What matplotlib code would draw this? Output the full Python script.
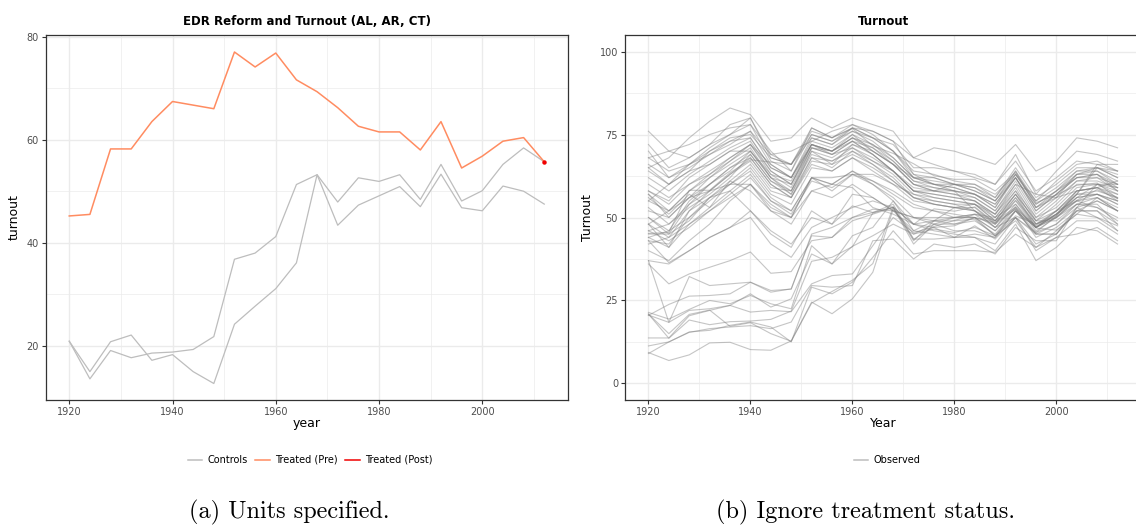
import numpy as np
import matplotlib.pyplot as plt
from matplotlib.lines import Line2D

years = list(range(1920, 2013, 4))

# treated unit (CT) and the two controls (AL, AR) -- panel (a)
treated = [45.2, 45.5, 58.2, 58.2, 63.5, 67.4, 66.7, 66.0, 77.0, 74.1, 76.8, 71.6,
           69.3, 66.2, 62.6, 61.5, 61.5, 58.0, 63.5, 54.5, 56.8, 59.7, 60.4, 55.7]
treated_post_year = [2012]
treated_post = [55.7]
ctrl_ar = [20.9, 13.6, 19.1, 17.7, 18.6, 18.8, 19.3, 21.8, 36.8, 38.0, 41.2, 51.3,
           53.2, 47.9, 52.6, 51.9, 53.2, 48.4, 55.2, 48.1, 50.1, 55.2, 58.4, 55.7]
ctrl_al = [20.9, 15.0, 20.8, 22.1, 17.2, 18.3, 15.0, 12.7, 24.2, 27.7, 31.1, 36.1,
           53.2, 43.4, 47.3, 49.1, 50.9, 47.0, 53.3, 46.8, 46.2, 51.0, 50.0, 47.5]

# all states, panel (b) (read by eye, rough)
north = [
    [65, 68, 74, 79, 83, 81, 73, 74, 80, 77, 80, 78, 76, 68, 66, 64, 62, 60, 67, 58, 62, 67, 66, 64],
    [55, 60, 64, 70, 74, 75, 68, 66, 74, 72, 77, 76, 73, 68, 71, 70, 68, 66, 72, 64, 67, 74, 73, 71],
    [72, 65, 68, 72, 75, 80, 68, 66, 75, 73, 76, 74, 72, 65, 65, 64, 63, 60, 69, 57, 64, 70, 69, 67],
    [76, 70, 72, 75, 77, 78, 70, 64, 77, 74, 78, 75, 70, 62, 62, 60, 60, 57, 63, 55, 61, 66, 67, 64],
    [68, 64, 66, 69, 73, 76, 66, 62, 72, 70, 74, 72, 68, 62, 61, 60, 58, 55, 64, 53, 58, 64, 65, 62],
    [64, 60, 66, 70, 73, 74, 65, 62, 73, 71, 75, 70, 66, 60, 58, 58, 57, 54, 62, 52, 57, 62, 62, 60],
    [58, 55, 62, 66, 70, 73, 64, 60, 71, 69, 73, 71, 67, 61, 60, 59, 57, 53, 63, 54, 58, 63, 64, 60],
    [60, 56, 60, 63, 67, 71, 62, 58, 70, 68, 72, 70, 66, 60, 59, 58, 56, 52, 60, 50, 55, 61, 61, 59],
    [55, 52, 58, 62, 66, 70, 62, 57, 68, 67, 71, 68, 64, 58, 57, 56, 55, 51, 59, 49, 54, 60, 60, 58],
    [50, 46, 55, 60, 65, 69, 61, 57, 70, 66, 72, 69, 64, 59, 58, 57, 55, 50, 58, 48, 52, 58, 59, 57],
    [48, 44, 52, 58, 63, 68, 60, 56, 68, 65, 70, 67, 63, 57, 56, 55, 54, 49, 57, 47, 51, 57, 58, 56],
    [45, 45, 54, 58, 63, 67, 59, 58, 69, 67, 70, 66, 62, 56, 55, 54, 54, 49, 56, 48, 51, 56, 57, 55],
    [43, 42, 50, 56, 61, 66, 58, 56, 67, 66, 69, 66, 61, 56, 54, 53, 53, 48, 55, 47, 50, 56, 57, 54],
    [44, 46, 50, 55, 60, 65, 57, 54, 65, 64, 68, 64, 60, 55, 54, 53, 52, 47, 54, 46, 50, 55, 56, 53],
    [46, 48, 53, 57, 62, 69, 61, 58, 71, 70, 73, 69, 64, 58, 56, 55, 54, 50, 57, 49, 52, 58, 59, 56],
    [52, 50, 56, 62, 67, 72, 64, 60, 72, 70, 74, 71, 66, 60, 58, 57, 56, 52, 61, 51, 56, 61, 62, 58],
    [62, 58, 63, 67, 71, 74, 65, 62, 74, 72, 76, 73, 68, 62, 60, 59, 57, 53, 62, 52, 57, 63, 63, 60],
    [66, 62, 66, 71, 75, 78, 67, 64, 75, 73, 77, 74, 70, 63, 62, 60, 59, 56, 64, 55, 59, 64, 64, 61],
    [70, 62, 65, 69, 72, 76, 69, 66, 76, 74, 77, 74, 70, 64, 63, 61, 60, 56, 65, 56, 60, 65, 65, 62],
    [58, 54, 60, 64, 68, 72, 63, 61, 72, 70, 75, 72, 67, 61, 59, 58, 57, 54, 62, 53, 57, 62, 63, 59],
    [44, 41, 48, 53, 58, 63, 55, 52, 62, 60, 64, 61, 58, 54, 52, 51, 50, 46, 53, 44, 47, 52, 52, 46],
    [42, 44, 48, 52, 57, 62, 55, 51, 61, 59, 63, 61, 57, 53, 52, 50, 50, 46, 52, 45, 48, 54, 54, 48],
    [53, 48, 54, 60, 65, 68, 60, 56, 66, 64, 68, 65, 61, 56, 54, 53, 52, 48, 56, 47, 51, 57, 57, 54],
    [48, 52, 56, 60, 64, 70, 63, 59, 71, 69, 73, 69, 64, 58, 57, 56, 55, 51, 58, 50, 53, 59, 60, 57],
    [57, 52, 58, 63, 68, 72, 66, 62, 72, 70, 74, 70, 66, 62, 60, 60, 59, 55, 63, 54, 58, 62, 63, 58],
    [50, 45, 49, 56, 60, 64, 56, 52, 62, 58, 63, 60, 56, 50, 48, 46, 46, 44, 50, 42, 45, 52, 52, 48],
    [40, 37, 43, 48, 55, 60, 54, 50, 62, 60, 64, 60, 55, 48, 46, 45, 44, 42, 50, 40, 44, 49, 49, 45],
    [46, 43, 47, 52, 56, 60, 53, 50, 58, 56, 60, 56, 52, 46, 45, 44, 44, 40, 48, 37, 41, 47, 46, 42],
]
border = [
    [57, 50, 56, 58, 60, 60, 52, 48, 58, 60, 59, 53, 51, 48, 49, 50, 51, 49, 53, 47, 52, 55, 57, 55],
    [56, 51, 57, 53, 61, 58, 52, 50, 62, 62, 63, 63, 60, 57, 55, 54, 52, 49, 57, 49, 49, 54, 56, 52],
    [48, 41, 52, 56, 58, 52, 46, 42, 50, 48, 57, 56, 52, 50, 50, 50, 51, 50, 54, 47, 51, 56, 60, 60],
    [37, 36, 40, 44, 47, 50, 42, 38, 47, 50, 53, 55, 53, 48, 47, 44, 45, 44, 52, 45, 45, 52, 55, 52],
    [68, 70, 68, 72, 78, 80, 69, 70, 73, 76, 78, 76, 73, 63, 60, 58, 52, 47, 50, 45, 45, 53, 50, 46],
    [65, 60, 64, 66, 70, 70, 62, 60, 72, 69, 71, 67, 64, 58, 58, 60, 58, 55, 62, 53, 56, 63, 65, 63],
]
south = [
    [9.3, 6.9, 8.6, 12.2, 12.4, 10.2, 10, 12.8, 24.5, 21, 25.5, 33.5, 52.5, 45, 48, 50, 50, 48, 52.5, 45.5, 48, 53, 60, 59],
    [9, 12.5, 15.5, 16, 17.5, 18.5, 17, 12.5, 29, 27, 30.5, 38, 46, 39, 40, 40, 40, 39.5, 45, 41, 46, 51, 56, 52],
    [11.3, 12.5, 15.4, 16.5, 17, 17.4, 16.5, 18.5, 29.5, 29, 29.5, 43, 43.5, 37.5, 42, 41, 42, 39, 47, 43, 43, 53, 55, 52],
    [13.7, 13.7, 20.4, 22, 23.5, 27, 23, 25.5, 39, 36, 44.5, 47, 55, 46, 49, 53, 54, 51, 60, 57, 56, 58, 59, 61],
    [21.4, 19.4, 22.3, 25, 24, 26.5, 24, 22.5, 41.5, 36, 41.3, 44.5, 48, 45, 46.5, 45.5, 47, 44.5, 49, 41, 44, 45, 47, 43],
    [20.6, 18.4, 22, 22.5, 23.5, 21.5, 22, 21.6, 30, 32.5, 33, 41.5, 50, 45.5, 47, 47.5, 50, 48.5, 52.5, 47.5, 52, 57, 66, 66],
    [20.5, 23.8, 26.3, 26.5, 27, 30.5, 27.5, 28.5, 44.5, 44, 50, 52.5, 52, 50, 49, 48, 50, 44.5, 50.5, 48, 50.5, 58, 59, 55],
    [37, 18.4, 32.2, 29.5, 30, 30.5, 28, 28.4, 45, 47, 50, 51.5, 53, 43, 49, 49, 49.5, 44.5, 52, 47, 51, 55, 53, 50],
    [43, 36.4, 40, 44, 47, 52, 45, 41, 52, 48, 53.5, 51.5, 54, 43.5, 43.5, 44, 47.5, 43.5, 50, 45.5, 50.5, 57, 65, 64],
    [36, 30, 33, 35, 37, 39.6, 33.2, 33.7, 43, 44, 49, 51, 53, 42, 48, 48, 49, 45, 52, 47, 50, 54, 53, 49],
]
all_states = north + border + south + [treated, ctrl_ar, ctrl_al]

W, H = 1136, 527
fig = plt.figure(figsize=(W / 100, H / 100), dpi=100)

grid_major = '#EBEBEB'
txt_col = '#4D4D4D'


def style(ax):
    ax.set_xticks([1920, 1940, 1960, 1980, 2000])
    ax.set_xticks([1930, 1950, 1970, 1990, 2010], minor=True)
    ax.grid(which='major', color=grid_major, lw=1.0)
    ax.grid(which='minor', color=grid_major, lw=0.5)
    ax.set_axisbelow(True)
    ax.tick_params(which='major', length=3, color='#333333', width=0.8,
                   labelsize=7, labelcolor=txt_col, pad=2)
    ax.tick_params(which='minor', length=0)
    for s in ax.spines.values():
        s.set_color('#333333')
        s.set_linewidth(0.9)
    ax.set_xlim(1915.4, 2016.6)


# (a)
ax1 = fig.add_axes([45.5 / W, 1 - 400 / H, (568 - 45.5) / W, 365 / H])
style(ax1)
ax1.set_yticks([20, 40, 60, 80])
ax1.set_yticks([30, 50, 70], minor=True)
ax1.set_ylim(9.5, 80.3)
ax1.plot(years, ctrl_ar, color='#BDBDBD', lw=0.9)
ax1.plot(years, ctrl_al, color='#BDBDBD', lw=0.9)
ax1.plot(years, treated, color='#FF8C61', lw=1.1)
ax1.plot(treated_post_year, treated_post, 'o', color='#F00000', ms=2.2)
ax1.set_title('EDR Reform and Turnout (AL, AR, CT)', fontsize=8.5,
              fontweight='bold', pad=7)
ax1.set_xlabel('year', fontsize=9, labelpad=0)
ax1.set_ylabel('turnout', fontsize=9, labelpad=4)
handles = [Line2D([], [], color='#BDBDBD', lw=1.1),
           Line2D([], [], color='#FF8C61', lw=1.1),
           Line2D([], [], color='#F00000', lw=1.1)]
fig.legend(handles, ['Controls', 'Treated (Pre)', 'Treated (Post)'],
           loc='center', bbox_to_anchor=(310 / W, 1 - 460 / H), ncol=3,
           frameon=False, fontsize=7, handlelength=1.5, columnspacing=0.8,
           handletextpad=0.5)

# (b)
ax2 = fig.add_axes([625 / W, 1 - 400 / H, (1141 - 625) / W, 365 / H])
style(ax2)
ax2.set_yticks([0, 25, 50, 75, 100])
ax2.set_yticks([12.5, 37.5, 62.5, 87.5], minor=True)
ax2.set_ylim(-5, 105)
for st in all_states:
    ax2.plot(years, st, color='#7F7F7F', alpha=0.45, lw=0.8)
ax2.set_title('Turnout', fontsize=8.5, fontweight='bold', pad=7)
ax2.set_xlabel('Year', fontsize=9, labelpad=0)
ax2.set_ylabel('Turnout', fontsize=9, labelpad=4)
fig.legend([Line2D([], [], color='#BDBDBD', lw=1.1)], ['Observed'],
           loc='center', bbox_to_anchor=(887 / W, 1 - 460 / H),
           frameon=False, fontsize=7, handlelength=1.5, handletextpad=0.5)

fig.text(289 / W, 1 - 512 / H, '(a) Units specified.', family='cmr10',
         fontsize=17.5, ha='center', va='center')
fig.text(866 / W, 1 - 512 / H, '(b) Ignore treatment status.', family='cmr10',
         fontsize=17.5, ha='center', va='center')

fig.savefig('out.png', dpi=100)
